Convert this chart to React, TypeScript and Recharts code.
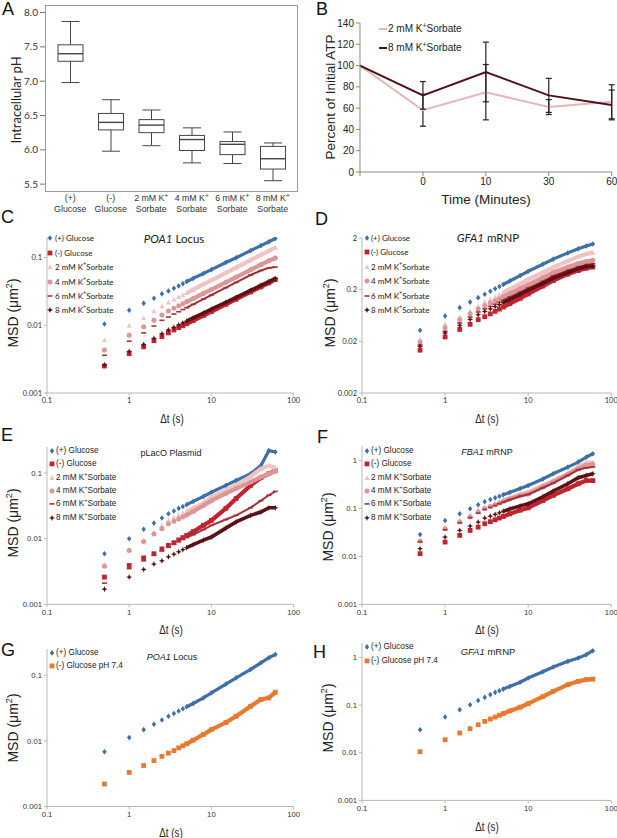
import React from 'react';
import { ScatterChart, Scatter, XAxis, YAxis, ComposedChart, Bar, LineChart, Line, ErrorBar } from 'recharts';

const ARIAL = '"Liberation Sans", Arial, sans-serif';
const CALIB = 'Lato, "Liberation Sans", sans-serif';

// ---------- Panel A: intracellular pH ----------
const phTop = ['(+)', '(-)', '2 mM K+', '4 mM K+', '6 mM K+', '8 mM K+'];
const phBottom = ['Glucose', 'Glucose', 'Sorbate', 'Sorbate', 'Sorbate', 'Sorbate'];
const phMin = [6.98, 5.98, 6.06, 5.81, 5.8, 5.55];
const phQ1 = [7.29, 6.29, 6.25, 5.99, 5.93, 5.72];
const phMed = [7.4, 6.4, 6.36, 6.15, 6.08, 5.87];
const phQ3 = [7.53, 6.53, 6.44, 6.21, 6.12, 6.05];
const phMax = [7.87, 6.73, 6.58, 6.32, 6.26, 6.1];
const phTicks = [5.5, 6.0, 6.5, 7.0, 7.5, 8.0];

// ---------- Panel B: ATP ----------
const atpTimes = ['', '0', '10', '30', '60'];
const atp2 = [100, 58, 75, 61, 66];
const atp2Err = [0, 15, 26, 7, 16];
const atp8 = [100, 72, 94, 72, 63];
const atp8Err = [0, 13, 28, 16, 14];
const atpTicks = [0, 20, 40, 60, 80, 100, 120, 140];

// ---------- MSD panels ----------
const lagTimes = [0.5, 1, 1.5, 2, 2.5, 3, 3.5, 4, 4.5, 5, 6, 8, 10, 15, 20, 30, 40, 50, 60];

// C: POA1 locus
const cPlus = [0.0104, 0.0166, 0.021, 0.025, 0.029, 0.032, 0.035, 0.038, 0.041, 0.044, 0.049, 0.058, 0.066, 0.084, 0.099, 0.126, 0.149, 0.17, 0.19];
const cMinus = [0.0025, 0.0038, 0.0048, 0.0059, 0.0068, 0.0077, 0.0085, 0.0092, 0.0098, 0.0105, 0.0117, 0.0139, 0.0159, 0.0203, 0.0242, 0.031, 0.0367, 0.042, 0.047];
const c2 = [0.006, 0.0098, 0.0128, 0.016, 0.019, 0.0217, 0.0239, 0.026, 0.0279, 0.0298, 0.0334, 0.04, 0.0459, 0.059, 0.0706, 0.091, 0.109, 0.125, 0.14];
const c4 = [0.0043, 0.0071, 0.0095, 0.0118, 0.0142, 0.0162, 0.0178, 0.0193, 0.0207, 0.0221, 0.0247, 0.0294, 0.0336, 0.043, 0.0512, 0.0656, 0.078, 0.089, 0.098];
const c6 = [0.0036, 0.0058, 0.0077, 0.0097, 0.0118, 0.0132, 0.0146, 0.0158, 0.017, 0.0181, 0.0203, 0.0243, 0.0279, 0.0358, 0.0428, 0.055, 0.064, 0.07, 0.072];
const c8 = [0.0026, 0.0041, 0.0052, 0.0064, 0.0075, 0.0085, 0.0093, 0.0101, 0.0108, 0.0115, 0.0128, 0.0151, 0.0172, 0.0218, 0.0258, 0.0327, 0.0387, 0.044, 0.049];

// D: GFA1 mRNP
const dPlus = [0.0327, 0.0618, 0.0897, 0.115, 0.14, 0.163, 0.186, 0.208, 0.23, 0.252, 0.294, 0.375, 0.454, 0.62, 0.78, 1.03, 1.24, 1.4, 1.53];
const dMinus = [0.0135, 0.0243, 0.034, 0.0427, 0.0525, 0.06, 0.068, 0.076, 0.084, 0.092, 0.107, 0.136, 0.165, 0.235, 0.3, 0.4, 0.47, 0.52, 0.55];
const d2 = [0.022, 0.0427, 0.059, 0.077, 0.0955, 0.115, 0.13, 0.145, 0.16, 0.175, 0.205, 0.26, 0.315, 0.43, 0.54, 0.72, 0.87, 0.98, 1.04];
const d4 = [0.0195, 0.0368, 0.0525, 0.0687, 0.0846, 0.098, 0.11, 0.122, 0.134, 0.146, 0.168, 0.21, 0.25, 0.34, 0.43, 0.55, 0.64, 0.7, 0.74];
const d6 = [0.017, 0.0313, 0.0453, 0.059, 0.074, 0.085, 0.095, 0.105, 0.115, 0.125, 0.144, 0.18, 0.215, 0.29, 0.37, 0.47, 0.55, 0.61, 0.637];
const d8 = [0.016, 0.029, 0.0408, 0.053, 0.0656, 0.076, 0.085, 0.094, 0.103, 0.112, 0.13, 0.162, 0.195, 0.265, 0.335, 0.43, 0.51, 0.56, 0.574];

// E: pLacO plasmid
const ePlus = [0.0059, 0.01, 0.0139, 0.0173, 0.0207, 0.024, 0.0265, 0.029, 0.031, 0.033, 0.037, 0.044, 0.051, 0.065, 0.077, 0.098, 0.13, 0.22, 0.21];
const eMinus = [0.0026, 0.0039, 0.0051, 0.0059, 0.007, 0.0079, 0.0087, 0.0096, 0.0104, 0.0112, 0.0128, 0.016, 0.019, 0.029, 0.041, 0.065, 0.085, 0.098, 0.11];
const e2 = [0.004, 0.0068, 0.0094, 0.0122, 0.0158, 0.019, 0.021, 0.023, 0.0245, 0.026, 0.029, 0.035, 0.043, 0.055, 0.065, 0.089, 0.116, 0.13, 0.12];
const e4 = [0.0038, 0.0066, 0.0091, 0.0118, 0.0142, 0.0169, 0.0185, 0.02, 0.0215, 0.023, 0.026, 0.032, 0.038, 0.049, 0.058, 0.073, 0.087, 0.098, 0.107];
const e6 = [0.0021, 0.0035, 0.0046, 0.0056, 0.0065, 0.0074, 0.0082, 0.009, 0.0097, 0.0104, 0.0115, 0.0138, 0.016, 0.0196, 0.0227, 0.0297, 0.038, 0.046, 0.0526];
const e8 = [0.0017, 0.0026, 0.0034, 0.0041, 0.0046, 0.0053, 0.0058, 0.0063, 0.0068, 0.0073, 0.0081, 0.0095, 0.0106, 0.0145, 0.018, 0.0227, 0.0255, 0.0296, 0.0296];

// F: FBA1 mRNP
const fPlus = [0.0287, 0.0562, 0.0775, 0.0985, 0.119, 0.138, 0.153, 0.166, 0.179, 0.192, 0.216, 0.26, 0.3, 0.41, 0.527, 0.726, 0.923, 1.17, 1.38];
const fMinus = [0.0114, 0.0199, 0.0274, 0.0348, 0.0408, 0.048, 0.053, 0.058, 0.063, 0.068, 0.077, 0.092, 0.103, 0.145, 0.187, 0.257, 0.327, 0.38, 0.38];
const f2 = [0.021, 0.0396, 0.0562, 0.074, 0.094, 0.103, 0.115, 0.126, 0.137, 0.147, 0.165, 0.196, 0.219, 0.3, 0.38, 0.527, 0.726, 0.88, 0.92];
const f4 = [0.0209, 0.0376, 0.052, 0.066, 0.084, 0.1, 0.11, 0.12, 0.13, 0.14, 0.157, 0.185, 0.2, 0.28, 0.354, 0.51, 0.67, 0.79, 0.82];
const f6 = [0.02, 0.036, 0.05, 0.064, 0.08, 0.095, 0.105, 0.115, 0.125, 0.135, 0.152, 0.18, 0.196, 0.27, 0.337, 0.487, 0.64, 0.7, 0.73];
const f8 = [0.0145, 0.0253, 0.0348, 0.0429, 0.052, 0.0628, 0.069, 0.075, 0.081, 0.087, 0.097, 0.113, 0.125, 0.175, 0.23, 0.327, 0.435, 0.487, 0.53];

// G: POA1 locus pH 7.4
const gPlus = [0.0068, 0.0112, 0.0148, 0.0179, 0.0208, 0.0237, 0.026, 0.0285, 0.0307, 0.033, 0.037, 0.045, 0.0537, 0.073, 0.091, 0.122, 0.154, 0.184, 0.207];
const gMinus = [0.0022, 0.0033, 0.0042, 0.005, 0.0058, 0.0065, 0.0071, 0.0078, 0.0084, 0.009, 0.0102, 0.0125, 0.0148, 0.019, 0.0237, 0.0336, 0.0425, 0.045, 0.055];

// H: GFA1 mRNP pH 7.4
const hPlus = [0.0304, 0.056, 0.0798, 0.1016, 0.125, 0.145, 0.165, 0.184, 0.2, 0.216, 0.245, 0.3, 0.368, 0.5, 0.627, 0.824, 0.968, 1.14, 1.38];
const hMinus = [0.0105, 0.0187, 0.0259, 0.0319, 0.0386, 0.0454, 0.051, 0.056, 0.061, 0.066, 0.075, 0.09, 0.107, 0.15, 0.194, 0.267, 0.314, 0.34, 0.35];

const sorbLabels = ['(+) Glucose', '(-) Glucose', '2 mM K+Sorbate', '4 mM K+Sorbate', '6 mM K+Sorbate', '8 mM K+Sorbate'];
const phLabels = ['(+) Glucose', '(-) Glucose pH 7.4'];

const BLUE = '#3d6fa9';
const RED = '#c3222e';
const PINK_L = '#f1c3c3';
const PINK = '#dc9697';
const BROWN = '#a53238';
const DARK = '#5b1217';
const ORANGE = '#e8792f';

const KINDS = ['diamond', 'square', 'triangle', 'circle', 'dash', 'star'];
const SORB_COLORS = [BLUE, RED, PINK_L, PINK, BROWN, DARK];
const SORB_BANDS = [3.2, 4.2, 4.2, 4.2, 2, 3.6];

// ---------- helpers ----------
function markerEl(kind: string, color: string, cx: number, cy: number) {
  switch (kind) {
    case 'diamond':
      return <polygon points={`${cx},${cy - 2.8} ${cx + 2.2},${cy} ${cx},${cy + 2.8} ${cx - 2.2},${cy}`} fill={color} />;
    case 'square':
      return <rect x={cx - 2.4} y={cy - 2.4} width={4.8} height={4.8} fill={color} />;
    case 'triangle':
      return <polygon points={`${cx},${cy - 2.8} ${cx + 2.5},${cy + 2} ${cx - 2.5},${cy + 2}`} fill={color} />;
    case 'circle':
      return <circle cx={cx} cy={cy} r={2.5} fill={color} />;
    case 'dash':
      return <rect x={cx - 2.5} y={cy - 0.8} width={5} height={1.6} fill={color} />;
    case 'star':
      return (
        <polygon
          points={`${cx},${cy - 3} ${cx + 0.9},${cy - 0.9} ${cx + 3},${cy} ${cx + 0.9},${cy + 0.9} ${cx},${cy + 3} ${cx - 0.9},${cy + 0.9} ${cx - 3},${cy} ${cx - 0.9},${cy - 0.9}`}
          fill={color}
        />
      );
    default:
      return <circle cx={cx} cy={cy} r={2.5} fill={color} />;
  }
}

function withSup(label: string) {
  const i = label.indexOf('K+');
  if (i < 0) return label;
  return (
    <>
      {label.slice(0, i + 1)}
      <sup style={{ fontSize: '0.7em', lineHeight: 0 }}>+</sup>
      {label.slice(i + 2)}
    </>
  );
}

const abs = (o: React.CSSProperties): React.CSSProperties => ({ position: 'absolute', whiteSpace: 'nowrap', ...o });

function PanelLetter({ ch, left, top }: { ch: string; left: number; top: number }) {
  return <div style={abs({ left, top, fontFamily: ARIAL, fontSize: 18, lineHeight: '18px', color: '#111' })}>{ch}</div>;
}

function CenterText({ x, y, children, size, family, rotate, style }: any) {
  return (
    <div
      style={abs({
        left: x,
        top: y,
        fontFamily: family,
        fontSize: size,
        lineHeight: 1,
        color: '#222',
        transform: `translate(-50%,-50%)${rotate ? ' rotate(-90deg)' : ''}`,
        ...style,
      })}
    >
      {children}
    </div>
  );
}

type Series = { label: string; kind: string; color: string; band: number; values: number[] };

function Legend({ items, mx, tx, rows, size, family }: { items: Series[]; mx: number; tx: number; rows: number[]; size: number; family: string }) {
  return (
    <>
      {items.map((s, i) => (
        <div key={i} style={abs({ left: mx - 4, top: rows[i], transform: 'translateY(-50%)', display: 'flex', alignItems: 'center', fontFamily: family, fontSize: size, lineHeight: 1, color: '#222' })}>
          <svg width={8} height={8} style={{ display: 'block' }}>
            {markerEl(s.kind, s.color, 4, 4)}
          </svg>
          <span style={{ marginLeft: tx - (mx + 4) }}>{withSup(s.label)}</span>
        </div>
      ))}
    </>
  );
}

function MsdPanel({ x0, x1, y0, y1, yDomain, yTicks, series, tickFamily, tickSize }: any) {
  const YW = 40;
  const MT = 4;
  const MR = 10;
  const XH = 20;
  const w = x1 - x0 + YW + MR;
  const h = y1 - y0 + MT + XH;
  const axisColor = '#b8b8b8';
  const tick = { fill: '#333', fontSize: tickSize, fontFamily: tickFamily };
  return (
    <div style={abs({ left: x0 - YW, top: y0 - MT })}>
      <ScatterChart width={w} height={h} margin={{ top: MT, right: MR, bottom: 0, left: 0 }}>
        <XAxis
          type="number"
          dataKey="t"
          scale="log"
          domain={[0.1, 100]}
          ticks={[0.1, 1, 10, 100]}
          allowDataOverflow
          height={XH}
          stroke={axisColor}
          tickSize={3}
          tick={tick}
          interval={0}
          tickFormatter={(v: number) => String(v)}
        />
        <YAxis
          type="number"
          dataKey="v"
          scale="log"
          domain={yDomain}
          ticks={yTicks}
          allowDataOverflow
          width={YW}
          stroke={axisColor}
          tickSize={3}
          tick={tick}
          interval={0}
          tickFormatter={(v: number) => String(v)}
        />
        {series.flatMap((s: Series, i: number) => {
          const pts = lagTimes.map((t, k) => ({ t, v: s.values[k] }));
          return [
            <Scatter
              key={'band' + i}
              data={pts.filter((p) => p.t >= 5)}
              fill={s.color}
              line={{ stroke: s.color, strokeWidth: s.band }}
              shape={() => <g />}
              isAnimationActive={false}
              legendType="none"
            />,
            <Scatter
              key={'pts' + i}
              data={pts}
              fill={s.color}
              shape={(p: any) => markerEl(s.kind, s.color, p.cx, p.cy)}
              isAnimationActive={false}
              legendType="none"
            />,
          ];
        })}
      </ScatterChart>
    </div>
  );
}

const mk = (vals: number[][], labels: string[], kinds: string[], colors: string[], bands: number[]): Series[] =>
  vals.map((v, i) => ({ label: labels[i], kind: kinds[i], color: colors[i], band: bands[i], values: v }));

// ---------- Panel A components ----------
const phData = phTop.map((name, i) => ({
  name,
  box: [phQ1[i], phQ3[i]],
  min: phMin[i],
  med: phMed[i],
  max: phMax[i],
}));

const BoxShape = (props: any) => {
  const { x, y, width, height, payload } = props;
  if (!payload) return null;
  const [q1, q3] = payload.box;
  const top = Math.min(y, y + height);
  const h = Math.abs(height);
  const ppu = h / (q3 - q1);
  const cx = x + width / 2;
  const yMax = top - (payload.max - q3) * ppu;
  const yMin = top + h + (q1 - payload.min) * ppu;
  const yMed = top + (q3 - payload.med) * ppu;
  const cap = 9;
  return (
    <g stroke="#454545" strokeWidth={1} fill="none">
      <line x1={cx} x2={cx} y1={yMax} y2={top} />
      <line x1={cx} x2={cx} y1={top + h} y2={yMin} />
      <line x1={cx - cap} x2={cx + cap} y1={yMax} y2={yMax} />
      <line x1={cx - cap} x2={cx + cap} y1={yMin} y2={yMin} />
      <rect x={x} y={top} width={width} height={h} fill="#fff" />
      <line x1={x} x2={x + width} y1={yMed} y2={yMed} strokeWidth={1.4} />
    </g>
  );
};

const PhTick = (props: any) => {
  const { x, y, payload } = props;
  const idx = phTop.indexOf(payload.value);
  const top = phTop[idx] || '';
  const sup = top.endsWith('+');
  return (
    <g>
      <text x={x} y={y + 10} textAnchor="middle" fontSize={8.8} fontFamily={ARIAL} fill="#333">
        {sup ? top.slice(0, -1) : top}
        {sup ? <tspan baselineShift="super" fontSize={6.5}>+</tspan> : null}
      </text>
      <text x={x} y={y + 20.5} textAnchor="middle" fontSize={8.8} fontFamily={ARIAL} fill="#333">
        {phBottom[idx]}
      </text>
    </g>
  );
};

function PanelA() {
  const x0 = 45, x1 = 297, y0 = 5, y1 = 191;
  const YW = 40, MT = 2, MR = 3, XH = 30;
  return (
    <>
      <div style={abs({ left: x0, top: y0, width: x1 - x0 - 1, height: y1 - y0 - 1, border: '1px solid #9a9a9a' })} />
      <div style={abs({ left: x0 - YW, top: y0 - MT })}>
        <ComposedChart width={x1 - x0 + YW + MR} height={y1 - y0 + MT + XH} data={phData} margin={{ top: MT, right: MR, bottom: 0, left: 0 }}>
          <XAxis dataKey="name" type="category" axisLine={false} tickLine={false} tickSize={0} tickMargin={0} height={XH} padding={{ left: 5, right: 4 }} tick={<PhTick />} interval={0} />
          <YAxis
            type="number"
            domain={[5.4, 8.11]}
            ticks={phTicks}
            allowDataOverflow
            width={YW}
            axisLine={false}
            tickSize={5}
            tickLine={{ stroke: '#777' }}
            tick={{ fill: '#333', fontSize: 10, fontFamily: CALIB }}
            tickFormatter={(v: number) => v.toFixed(1)}
            interval={0}
          />
          <Bar dataKey="box" barSize={25} shape={<BoxShape />} isAnimationActive={false} />
        </ComposedChart>
      </div>
      <CenterText x={16} y={100} size={13} family={CALIB} rotate>
        Intracellular pH
      </CenterText>
    </>
  );
}

// ---------- Panel B ----------
const atpData = atpTimes.map((t, i) => ({ t, a2: atp2[i], e2: atp2Err[i], a8: atp8[i], e8: atp8Err[i] }));

function PanelB() {
  const x0 = 360, x1 = 611.7, y0 = 22.7, y1 = 171.7;
  const YW = 35, MT = 8, MR = 5, XH = 22;
  const axisColor = '#8a8a8a';
  return (
    <>
      <div style={abs({ left: x0 - YW, top: y0 - MT })}>
        <LineChart width={x1 - x0 + YW + MR} height={y1 - y0 + MT + XH} data={atpData} margin={{ top: MT, right: MR, bottom: 0, left: 0 }}>
          <XAxis dataKey="t" type="category" scale="point" padding={{ left: 0, right: 0 }} stroke={axisColor} tickSize={4} height={XH} interval={0} tick={{ fill: '#222', fontSize: 10, fontFamily: ARIAL }} />
          <YAxis type="number" domain={[0, 140]} ticks={atpTicks} width={YW} stroke={axisColor} tickSize={4} interval={0} tick={{ fill: '#222', fontSize: 10, fontFamily: ARIAL }} />
          <Line dataKey="a2" stroke="#e6b6b9" strokeWidth={2} dot={false} isAnimationActive={false}>
            <ErrorBar dataKey="e2" width={3} stroke="#222" strokeWidth={1.2} direction="y" />
          </Line>
          <Line dataKey="a8" stroke="#4b1117" strokeWidth={2} dot={false} isAnimationActive={false}>
            <ErrorBar dataKey="e8" width={3} stroke="#222" strokeWidth={1.2} direction="y" />
          </Line>
        </LineChart>
      </div>
      {[
        { c: '#e6b6b9', y: 29, l: '2 mM K+Sorbate' },
        { c: '#4b1117', y: 48, l: '8 mM K+Sorbate' },
      ].map((it, i) => (
        <div key={i} style={abs({ left: 379, top: it.y, transform: 'translateY(-50%)', display: 'flex', alignItems: 'center', fontFamily: ARIAL, fontSize: 10, lineHeight: 1, color: '#222' })}>
          <svg width={8} height={4} style={{ display: 'block' }}>
            <line x1={0} x2={8} y1={2} y2={2} stroke={it.c} strokeWidth={2} />
          </svg>
          <span style={{ marginLeft: 1 }}>{withSup(it.l)}</span>
        </div>
      ))}
      <CenterText x={331} y={97} size={13.5} family={ARIAL} rotate>
        Percent of Initial ATP
      </CenterText>
      <CenterText x={486} y={200} size={13.5} family={ARIAL}>
        Time (Minutes)
      </CenterText>
    </>
  );
}

function MsdTitles({ yx, yy, dx, dy }: any) {
  return (
    <>
      <CenterText x={yx} y={yy} size={14} family={ARIAL} rotate>
        MSD (μm<sup style={{ fontSize: '0.65em', lineHeight: 0 }}>2</sup>)
      </CenterText>
      <CenterText x={dx} y={dy} size={13} family={ARIAL} style={{ transform: 'translate(-50%,-50%) scaleX(0.75)' }}>
        Δt (s)
      </CenterText>
    </>
  );
}

export default function App() {
  const cSeries = mk([cPlus, cMinus, c2, c4, c6, c8], sorbLabels, KINDS, SORB_COLORS, SORB_BANDS);
  const dSeries = mk([dPlus, dMinus, d2, d4, d6, d8], sorbLabels, KINDS, SORB_COLORS, SORB_BANDS);
  const eSeries = mk([ePlus, eMinus, e2, e4, e6, e8], sorbLabels, KINDS, SORB_COLORS, SORB_BANDS);
  const fSeries = mk([fPlus, fMinus, f2, f4, f6, f8], sorbLabels, KINDS, SORB_COLORS, SORB_BANDS);
  const gSeries = mk([gPlus, gMinus], phLabels, ['diamond', 'square'], [BLUE, ORANGE], [3.2, 4.2]);
  const hSeries = mk([hPlus, hMinus], phLabels, ['diamond', 'square'], [BLUE, ORANGE], [3.2, 4.2]);

  const rowsCD = [238.3, 252.7, 267, 281.7, 296, 310.3];
  const rowsEF = [451, 464, 477.7, 491, 504.3, 517.7];

  return (
    <div style={{ position: 'absolute', left: 0, top: 0, width: 617, height: 838, background: '#fff', overflow: 'hidden' }}>
      <PanelA />
      <PanelB />

      {/* C */}
      <MsdPanel x0={46.7} x1={293.3} y0={236.7} y1={392.7} yDomain={[0.001, 0.2]} yTicks={[0.001, 0.01, 0.1]} series={cSeries} tickFamily={CALIB} tickSize={7.5} />
      <Legend items={cSeries} mx={50} tx={55} rows={rowsCD} size={8} family={CALIB} />
      <CenterText x={174} y={239} size={11.5} family={CALIB}>
        <i>POA1</i> Locus
      </CenterText>
      <MsdTitles yx={13} yy={313} dx={172} dy={418} />

      {/* D */}
      <MsdPanel x0={361.7} x1={611} y0={237.7} y1={392.7} yDomain={[0.002, 2]} yTicks={[0.002, 0.02, 0.2, 2]} series={dSeries} tickFamily={CALIB} tickSize={7.5} />
      <Legend items={dSeries} mx={366.7} tx={371} rows={[237.7, 252.3, 266.7, 281.3, 296, 310.3]} size={8} family={CALIB} />
      <CenterText x={488} y={238} size={11.5} family={CALIB}>
        <i>GFA1</i> mRNP
      </CenterText>
      <MsdTitles yx={330} yy={313} dx={487} dy={418} />

      {/* E */}
      <MsdPanel x0={46.7} x1={293.3} y0={446.7} y1={604} yDomain={[0.001, 0.25]} yTicks={[0.001, 0.01, 0.1]} series={eSeries} tickFamily={ARIAL} tickSize={7.7} />
      <Legend items={eSeries} mx={52} tx={56} rows={rowsEF} size={8.2} family={ARIAL} />
      <CenterText x={171} y={453} size={9} family={ARIAL}>
        pLacO Plasmid
      </CenterText>
      <MsdTitles yx={13} yy={523} dx={171} dy={629} />

      {/* F */}
      <MsdPanel x0={361.7} x1={611} y0={445.6} y1={604} yDomain={[0.001, 2]} yTicks={[0.001, 0.01, 0.1, 1]} series={fSeries} tickFamily={ARIAL} tickSize={7.7} />
      <Legend items={fSeries} mx={366.7} tx={371} rows={rowsEF} size={8.2} family={ARIAL} />
      <CenterText x={487} y={452} size={9} family={ARIAL}>
        <i>FBA1</i> mRNP
      </CenterText>
      <MsdTitles yx={328} yy={527} dx={487} dy={629} />

      {/* G */}
      <MsdPanel x0={46.7} x1={293.3} y0={649.2} y1={806.7} yDomain={[0.001, 0.25]} yTicks={[0.001, 0.01, 0.1]} series={gSeries} tickFamily={ARIAL} tickSize={7.7} />
      <Legend items={gSeries} mx={52} tx={56} rows={[653.3, 666]} size={8.2} family={ARIAL} />
      <CenterText x={172} y={657} size={9} family={ARIAL}>
        <i>POA1</i> Locus
      </CenterText>
      <MsdTitles yx={13} yy={728} dx={171} dy={831.7} />

      {/* H */}
      <MsdPanel x0={361.7} x1={611} y0={643.3} y1={800.7} yDomain={[0.001, 2]} yTicks={[0.001, 0.01, 0.1, 1]} series={hSeries} tickFamily={ARIAL} tickSize={7.7} />
      <Legend items={hSeries} mx={366.7} tx={371} rows={[647.3, 661]} size={8.2} family={ARIAL} />
      <CenterText x={488} y={652} size={9.5} family={ARIAL}>
        <i>GFA1</i> mRNP
      </CenterText>
      <MsdTitles yx={328} yy={718} dx={487} dy={825.7} />

      <PanelLetter ch="A" left={2} top={0} />
      <PanelLetter ch="B" left={316} top={0} />
      <PanelLetter ch="C" left={1} top={207.7} />
      <PanelLetter ch="D" left={315} top={209.7} />
      <PanelLetter ch="E" left={1} top={425.7} />
      <PanelLetter ch="F" left={317} top={427.7} />
      <PanelLetter ch="G" left={1} top={640.7} />
      <PanelLetter ch="H" left={313} top={642.7} />
    </div>
  );
}
